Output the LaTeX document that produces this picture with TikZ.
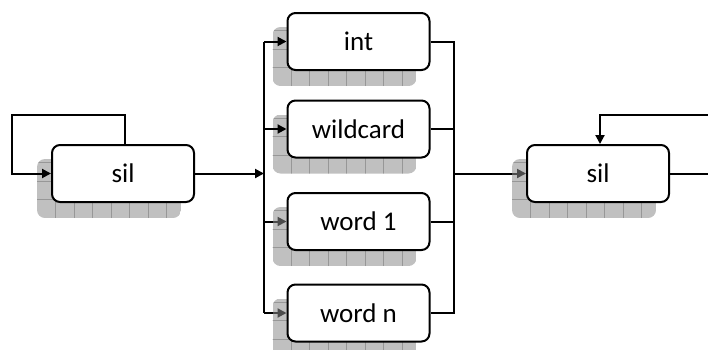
\documentclass[tikz,border=0pt]{standalone}
\usepackage{fontspec}
\setmainfont{Carlito}
\usetikzlibrary{arrows.meta,calc}
\pgfdeclarelayer{under}
\pgfdeclarelayer{shad}
\pgfsetlayers{under,shad,main}
\tikzset{
  box/.style={draw, line width=2pt, rounded corners=8pt, fill=white,
    minimum width=142pt, minimum height=57pt, inner sep=0pt,
    font=\fontsize{27}{30}\selectfont},
  conn/.style={line width=2pt},
  arr/.style={conn, -{Triangle[length=9pt,width=9pt]}},
  shadowfill/.style={fill=black!45, fill opacity=0.55},
  gridline/.style={draw=black!70, line width=0.5pt, draw opacity=0.35}
}
\newcommand\dropshadow[1]{%
  \begin{scope}
    \path[clip, rounded corners=8pt] ($(#1.south west)+(-14pt,-15pt)$) rectangle ($(#1.north east)+(-14pt,-15pt)$);
    \fill[shadowfill] ($(#1.south west)+(-14pt,-15pt)$) rectangle ($(#1.north east)+(-14pt,-15pt)$);
    \foreach \k in {1,...,8} {\draw[gridline] ($(#1.south west)+(-14pt+\k*18.5pt,-15pt)$) -- ++(0pt,80pt);}
    \foreach \k in {1,2,3} {\draw[gridline] ($(#1.south west)+(-20pt,-15pt+\k*18.5pt)$) -- ++(200pt,0pt);}
  \end{scope}}
\begin{document}
\begin{tikzpicture}[x=1pt,y=-1pt]
\useasboundingbox (0,0) rectangle (708,349);
% boxes
\node[box] (sL) at (123,173.5) {sil};
\node[box] (int) at (358.5,41.5) {int};
\node[box] (wc) at (358.5,129) {wildcard};
\node[box] (w1) at (358.5,221.5) {word 1};
\node[box] (wn) at (358.5,313) {word n};
\node[box] (sR) at (598,173.5) {sil};
% shadows
\begin{pgfonlayer}{shad}
  \dropshadow{sL}\dropshadow{int}\dropshadow{wc}\dropshadow{w1}\dropshadow{wn}\dropshadow{sR}
\end{pgfonlayer}
% bus coordinates
\coordinate (busL) at (264,0);
\coordinate (busR) at (454,0);
\coordinate (loopL) at (12,115);
\coordinate (loopR) at (720,115);
% left loop
\draw[arr] ([xshift=2pt]sL.north) |- (loopL) |- (sL.west);
% into left bus
\draw[arr] (sL.east) -- (busL |- sL.east);
% left bus
\draw[conn] (busL |- int.west) -- (busL |- wn.west);
\draw[arr] (busL |- int.west) -- (int.west);
\draw[arr] (busL |- wc.west) -- (wc.west);
\begin{pgfonlayer}{under}
  \draw[arr] (busL |- w1.west) -- (w1.west);
  \draw[arr] (busL |- wn.west) -- (wn.west);
  \draw[arr] (busR |- sR.west) -- (sR.west);
\end{pgfonlayer}
% right bus
\draw[conn] (int.east) -- (busR |- int.east) -- (busR |- wn.east) -- (wn.east);
\draw[conn] (wc.east) -- (busR |- wc.east);
\draw[conn] (w1.east) -- (busR |- w1.east);
% right loop
\draw[arr] (sR.east) -| (loopR) -| ([xshift=2pt]sR.north);
\end{tikzpicture}
\end{document}
